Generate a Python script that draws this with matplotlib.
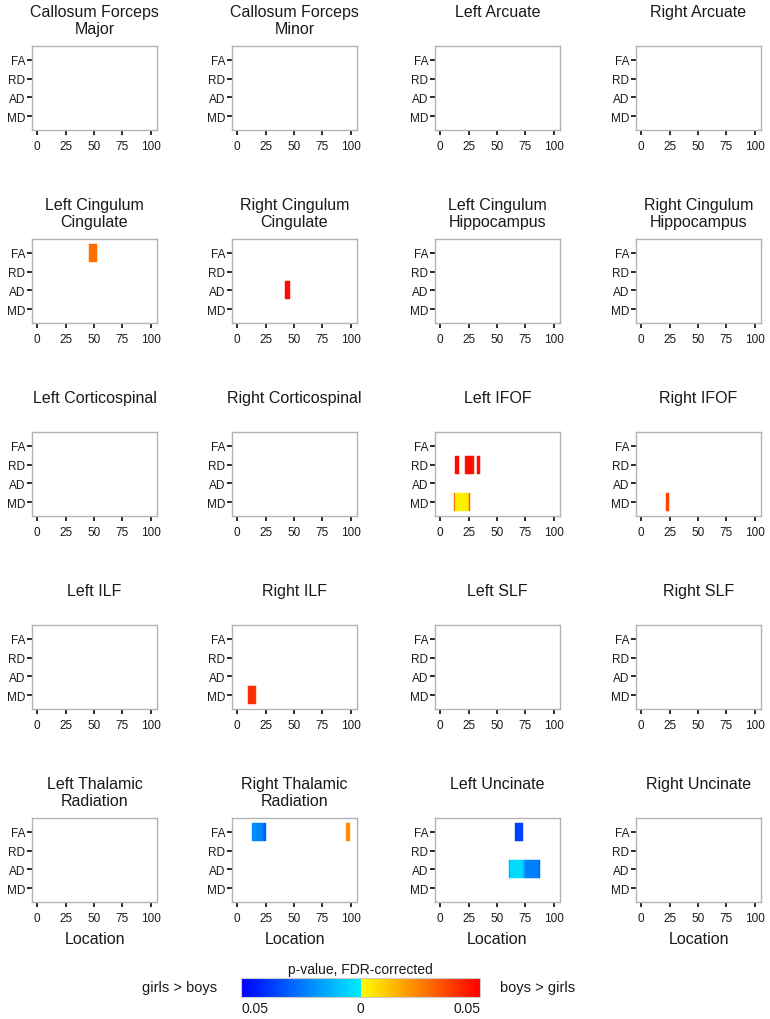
import matplotlib
matplotlib.use("Agg")
import matplotlib.pyplot as plt
import numpy as np
from matplotlib.colors import LinearSegmentedColormap, Normalize
from matplotlib.colorbar import ColorbarBase

plt.rcParams['font.family'] = ['Liberation Sans', 'DejaVu Sans']

# ---------------- data ----------------
tracts = [
    "Callosum Forceps\nMajor", "Callosum Forceps\nMinor", "Left Arcuate", "Right Arcuate",
    "Left Cingulum\nCingulate", "Right Cingulum\nCingulate", "Left Cingulum\nHippocampus", "Right Cingulum\nHippocampus",
    "Left Corticospinal", "Right Corticospinal", "Left IFOF", "Right IFOF",
    "Left ILF", "Right ILF", "Left SLF", "Right SLF",
    "Left Thalamic\nRadiation", "Right Thalamic\nRadiation", "Left Uncinate", "Right Uncinate",
]
measures = ["FA", "RD", "AD", "MD"]
x_ticks = [0, 25, 50, 75, 100]

# significant segments: tract index, measure, first location, signed FDR p-values
# (positive = boys > girls, negative = girls > boys)
seg_tract = [4, 5, 10, 10, 10, 10, 11, 13, 17, 17, 18, 18]
seg_measure = ["FA", "AD", "RD", "RD", "RD", "MD", "MD", "MD", "FA", "FA", "FA", "AD"]
seg_start = [46, 43, 14, 22, 33, 13, 22, 10, 14, 96, 66, 61]
seg_pvals = [
    [0.028, 0.028, 0.028, 0.028, 0.028, 0.028, 0.028],
    [0.047, 0.047, 0.047, 0.047],
    [0.047, 0.047, 0.047],
    [0.046, 0.047, 0.048, 0.048, 0.048, 0.048, 0.047, 0.046],
    [0.047, 0.047, 0.047],
    [0.033, 0.004, 0.003, 0.003, 0.003, 0.003, 0.003, 0.003, 0.003, 0.003, 0.004, 0.004, 0.005, 0.032],
    [0.037, 0.035, 0.037],
    [0.041, 0.041, 0.041, 0.041, 0.041, 0.040, 0.039],
    [-0.02, -0.02, -0.02, -0.02, -0.021, -0.021, -0.022, -0.022, -0.023, -0.025, -0.028, -0.031],
    [0.022, 0.022, 0.022, 0.022],
    [-0.036, -0.036, -0.036, -0.036, -0.036, -0.036, -0.036],
    [-0.015, -0.004, -0.004, -0.004, -0.004, -0.004, -0.004, -0.004, -0.004, -0.004, -0.004,
     -0.004, -0.01, -0.016, -0.02, -0.023, -0.023, -0.023, -0.023, -0.023, -0.023, -0.023,
     -0.023, -0.023, -0.023, -0.024, -0.028],
]
pmax = 0.05

# ---------------- colormap ----------------
cdict = {
    'red':   [(0.0, 0.0, 0.0), (0.5, 0.0, 1.0), (1.0, 1.0, 1.0)],
    'green': [(0.0, 0.0, 0.0), (0.5, 0.93, 1.0), (1.0, 0.0, 0.0)],
    'blue':  [(0.0, 1.0, 1.0), (0.5, 1.0, 0.0), (1.0, 0.0, 0.0)],
}
cmap = LinearSegmentedColormap('pfdr', cdict)
norm = Normalize(-pmax, pmax)

# ---------------- layout ----------------
W, H = 770, 1020
fig = plt.figure(figsize=(W / 100, H / 100), dpi=100)
col_left = [32, 232, 435, 636]
row_top = [47, 240, 433, 626, 819]
aw, ah = 125, 84
ypos = {m: 4 - i for i, m in enumerate(measures)}
txt = '#1a1a1a'
box = '#b3b3b3'

axes = []
for i, name in enumerate(tracts):
    r, c = divmod(i, 4)
    ax = fig.add_axes([col_left[c] / W, 1 - (row_top[r] + ah) / H, aw / W, ah / H])
    ax.set_xlim(-4.4, 105.3)
    ax.set_ylim(0.27, 4.73)
    ax.set_xticks(x_ticks)
    ax.set_yticks([ypos[m] for m in measures])
    ax.set_yticklabels(measures)
    for s in ax.spines.values():
        s.set_color(box)
        s.set_linewidth(1.0)
    ax.tick_params(axis='both', colors=txt, labelsize=8.5, length=3.5, width=1.3, pad=1.5)
    ax.tick_params(axis='x', pad=4)
    ax.text(0.5, 1 + 42 / ah, name, transform=ax.transAxes, ha='center', va='top',
            fontsize=11.5, color=txt, linespacing=1.15)
    if r == 4:
        ax.set_xlabel("Location", fontsize=11.5, color=txt, labelpad=5)
    axes.append(ax)

for t, m, st, pv in zip(seg_tract, seg_measure, seg_start, seg_pvals):
    ax = axes[t]
    locs = np.arange(st, st + len(pv))
    cols = [cmap(norm(v)) for v in pv]
    ax.bar(locs, 0.95, width=1.0, bottom=ypos[m] - 0.475, color=cols,
           edgecolor=cols, linewidth=0.3)

# ---------------- colorbar ----------------
cb_l, cb_r, cb_t, cb_b = 241, 480, 979, 998
cax = fig.add_axes([cb_l / W, 1 - cb_b / H, (cb_r - cb_l) / W, (cb_b - cb_t) / H])
cb = ColorbarBase(cax, cmap=cmap, norm=norm, orientation='horizontal')
cb.outline.set_edgecolor('#cccccc')
cb.outline.set_linewidth(0.8)
cax.set_xticks([])
cax.text(-pmax, -0.2, "0.05", ha='left', va='top', fontsize=10, color=txt,
         transform=cax.get_xaxis_transform())
cax.text(0, -0.2, "0", ha='center', va='top', fontsize=10, color=txt,
         transform=cax.get_xaxis_transform())
cax.text(pmax, -0.2, "0.05", ha='right', va='top', fontsize=10, color=txt,
         transform=cax.get_xaxis_transform())
cax.text(0, 1.08, "p-value, FDR-corrected", ha='center', va='bottom', fontsize=10, color=txt,
         transform=cax.get_xaxis_transform())
fig.text(180 / W, 1 - 988 / H, "girls > boys", ha='center', va='center', fontsize=10.5, color=txt)
fig.text(538 / W, 1 - 988 / H, "boys > girls", ha='center', va='center', fontsize=10.5, color=txt)

fig.savefig("out.png", dpi=100)
